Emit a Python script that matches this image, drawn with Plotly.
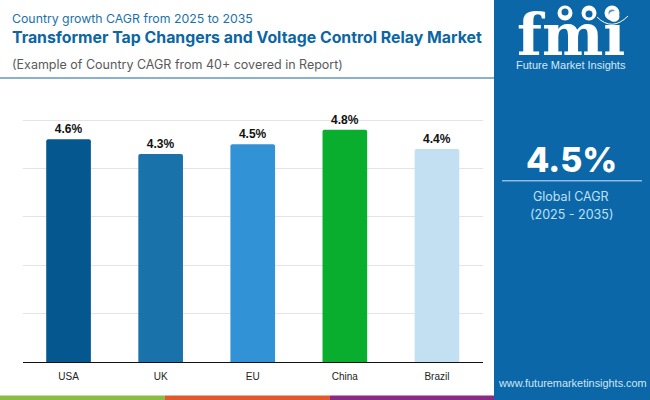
import plotly.graph_objects as go

countries = ["USA", "UK", "EU", "China", "Brazil"]
cagr = [4.6, 4.3, 4.5, 4.8, 4.4]
bar_colors = ["#04588f", "#1a72ab", "#3193d6", "#09ae2f", "#c2e0f2"]
y_ticks = [0, 1, 2, 3, 4, 5]

W, H = 650, 400
PANEL = "#0b67a7"
def px(x): return x / W
def py(y): return 1 - y / H

fig = go.Figure(go.Bar(
    x=countries, y=cagr, width=0.485,
    marker=dict(color=bar_colors, line_width=0, cornerradius=2),
    text=[f"{v:.1f}%" for v in cagr], textposition="outside", cliponaxis=False,
    textfont=dict(family="Liberation Sans", size=12, color="#111111", weight="bold"),
    hoverinfo="skip",
))

shapes = []
def rect(x0, y0, x1, y1, color, layer="below"):
    shapes.append(dict(type="rect", xref="paper", yref="paper", x0=px(x0), x1=px(x1),
                       y0=py(y1), y1=py(y0), fillcolor=color, line_width=0, layer=layer))
def circle(cx, cy, r, color):
    shapes.append(dict(type="circle", xref="paper", yref="paper",
                       x0=px(cx - r), x1=px(cx + r), y0=py(cy + r), y1=py(cy - r),
                       fillcolor=color, line_width=0, layer="above"))

rect(494, 0, 650, 400, PANEL)
rect(0, 77, 494, 79, "#8ab0cd")
rect(0, 395.5, 165, 400, "#8bbd45")
rect(165, 395.5, 330, 400, "#e2592b")
rect(330, 395.5, 494, 400, "#8a2a85")
rect(502, 180, 642, 181.5, "#8cbce6")

annotations = []
def text(x, y, s, size, color, family="Inter", weight="normal", anchor="left"):
    annotations.append(dict(xref="paper", yref="paper", x=px(x), y=py(y), text=s, showarrow=False,
                            xanchor=anchor, yanchor="middle",
                            font=dict(family=family, size=size, color=color, weight=weight)))

text(10, 18, "Country growth CAGR from 2025 to 2035", 12.3, "#1b72ab")
text(10, 37, "Transformer Tap Changers and Voltage Control Relay Market", 15.85, "#0b66a3", weight="bold")
text(10, 64, "(Example of Country CAGR from 40+ covered in Report)", 12.5, "#5a5a5a")

text(571, 159, "4.5%", 34, "#ffffff", weight=800, anchor="center")
text(571, 197, "Global CAGR", 12.5, "#bfe0f7", anchor="center")
text(571, 214, "(2025 - 2035)", 12.5, "#bfe0f7", anchor="center")
text(571, 65, "Future Market Insights", 11, "#d5e9f8", family="Liberation Sans", anchor="center")
text(572.5, 383, "www.futuremarketinsights.com", 10.9, "#cfe6f7", family="Liberation Sans", anchor="center")
text(571, 35, "fmi", 58, "#ffffff", family="DejaVu Serif", weight="bold", anchor="center")

# logo stripes, globes and the arc under them
for y in range(20, 56, 5):
    rect(515, y, 630, y + 1, PANEL, layer="above")
for cx, r in [(565, 10), (589, 10), (612, 10)]:
    circle(cx, 13, r, PANEL)
for cx in (565, 589, 612):
    circle(cx, 13, 7.5, "#ffffff")
circle(565, 12, 3.5, PANEL)
circle(589, 14, 3.5, PANEL)
circle(612, 13, 3.5, "#5f97c2")
shapes.append(dict(type="path", xref="paper", yref="paper", layer="above",
                   path=f"M {px(597)} {py(17)} Q {px(612)} {py(32)} {px(628)} {py(16)}",
                   line=dict(color="#ffffff", width=1)))

y_max = 5.05
fig.update_layout(
    width=W, height=H, margin=dict(l=0, r=0, t=0, b=0),
    paper_bgcolor="#ffffff", plot_bgcolor="#ffffff", showlegend=False,
    shapes=shapes, annotations=annotations,
    xaxis=dict(domain=[px(22.5), px(483)], showline=True, linecolor="#111111", linewidth=1,
               ticks="", ticklabelstandoff=5,
               tickfont=dict(family="Liberation Sans", size=10, color="#222222"),
               fixedrange=True),
    yaxis=dict(domain=[py(362), py(362 - 242 * y_max / 5)], range=[0, y_max], tickvals=y_ticks,
               showticklabels=False, showgrid=True, gridcolor="#e4e4e4", gridwidth=1,
               zeroline=False, ticks="", fixedrange=True),
)
fig.write_html("out.html", config={"displayModeBar": False},
               post_script="document.body.style.margin='0';")
